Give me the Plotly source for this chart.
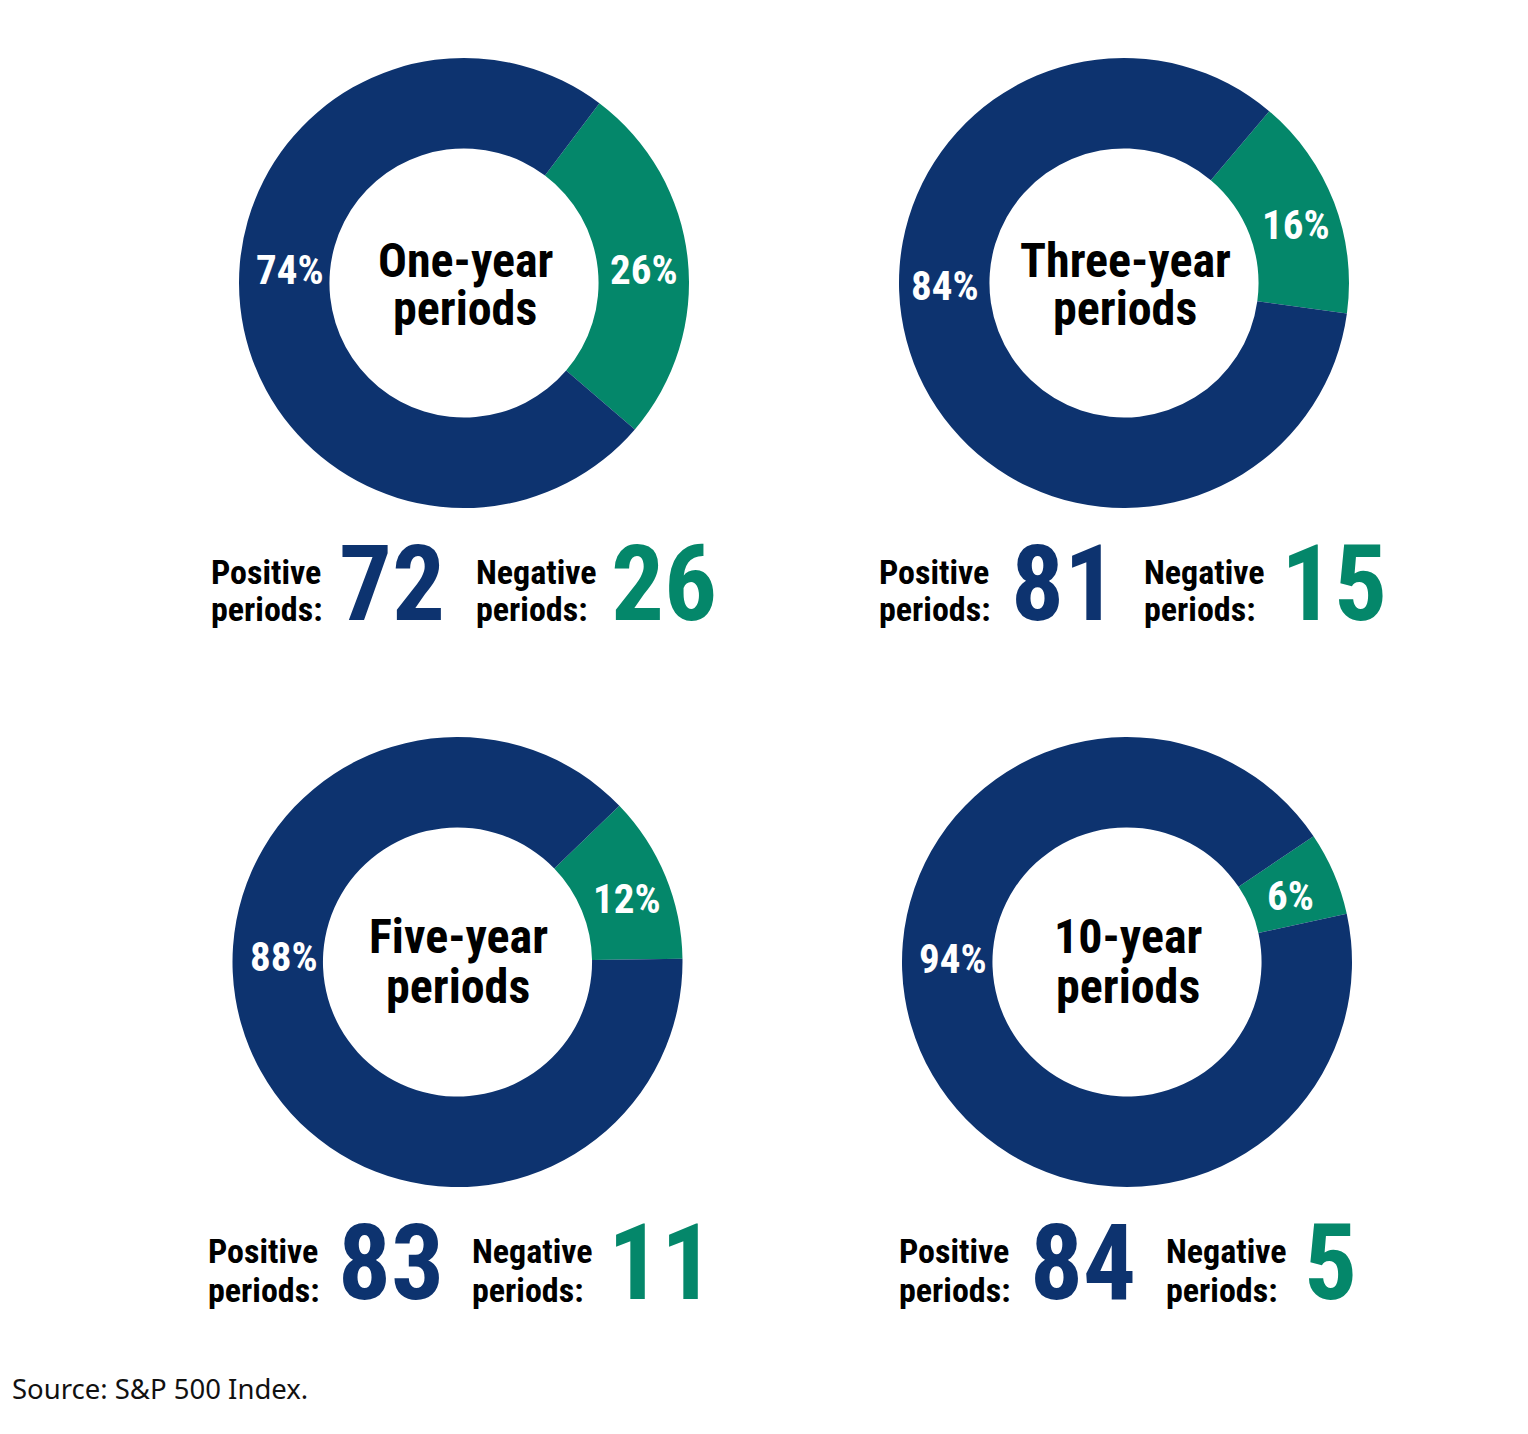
import plotly.graph_objects as go

# ---- data ----
period_titles = ["One-year", "Three-year", "Five-year", "10-year"]
positive_counts = [72, 81, 83, 84]
negative_counts = [26, 15, 11, 5]
positive_pct = [74, 84, 88, 94]
negative_pct = [26, 16, 12, 6]
source_text = "Source: S&P 500 Index."

# ---- style / layout ----
W, H = 1528, 1434
NAVY = "#0D336F"
GREEN = "#04876A"
COND = "Roboto Condensed, Liberation Sans Narrow, Arial Narrow, sans-serif"

centers = [(464, 283), (1124, 283), (457.5, 962), (1127, 962)]
R = 225
rotations = [37, 40.2, 46, 56]

# label positions (pixels): pos%, neg%, title line centres, bottom row
pos_lab = [(290, 270), (945, 286), (283.5, 956.5), (952.5, 958.5)]
neg_lab = [(643.5, 270), (1296, 225), (626.5, 899), (1290, 896)]
title_y = [(260, 308), (260, 308), (937, 986), (937, 986)]
bottom_x = [(209, 337, 474, 609), (877, 1009, 1142, 1279),
            (206, 336, 470, 606), (897, 1028, 1164, 1302)]
bottom_y = [(571.5, 609, 584.5), (571.5, 609, 584.5),
            (1250.5, 1290, 1263.5), (1250.5, 1290, 1263.5)]


def px(x):
    return x / W


def py(y):
    return 1 - y / H


fig = go.Figure()
ann = []
for i in range(4):
    cx, cy = centers[i]
    fig.add_trace(go.Pie(
        values=[negative_pct[i], positive_pct[i]],
        labels=["Negative", "Positive"],
        marker=dict(colors=[GREEN, NAVY], line=dict(width=0)),
        hole=0.598,
        sort=False,
        direction="clockwise",
        rotation=rotations[i],
        textinfo="none",
        hoverinfo="label+percent",
        showlegend=False,
        domain=dict(x=[px(cx - R), px(cx + R)], y=[py(cy + R), py(cy - R)]),
    ))
    # percentages
    for (lx, ly), val in ((pos_lab[i], positive_pct[i]), (neg_lab[i], negative_pct[i])):
        ann.append(dict(x=px(lx), y=py(ly), xref="paper", yref="paper",
                        text=f"<b>{val}%</b>", showarrow=False,
                        xanchor="center", yanchor="middle",
                        font=dict(family=COND, size=41, color="white")))
    # centre title
    for line, ty in zip([period_titles[i], "periods"], title_y[i]):
        ann.append(dict(x=px(cx + 1), y=py(ty), xref="paper", yref="paper",
                        text=f"<b>{line}</b>", showarrow=False,
                        xanchor="center", yanchor="middle",
                        font=dict(family=COND, size=48, color="black")))
    # bottom counts
    x_pl, x_pn, x_nl, x_nn = bottom_x[i]
    y1, y2, yn = bottom_y[i]
    for xl, word in ((x_pl, "Positive"), (x_nl, "Negative")):
        ann.append(dict(x=px(xl), y=py(y1), xref="paper", yref="paper",
                        text=f"<b>{word}</b>", showarrow=False,
                        xanchor="left", yanchor="middle",
                        font=dict(family=COND, size=34, color="black")))
        ann.append(dict(x=px(xl), y=py(y2), xref="paper", yref="paper",
                        text="<b>periods:</b>", showarrow=False,
                        xanchor="left", yanchor="middle",
                        font=dict(family=COND, size=34, color="black")))
    ann.append(dict(x=px(x_pn), y=py(yn), xref="paper", yref="paper",
                    text=f"<b>{positive_counts[i]}</b>", showarrow=False,
                    xanchor="left", yanchor="middle",
                    font=dict(family=COND, size=105, color=NAVY)))
    ann.append(dict(x=px(x_nn), y=py(yn), xref="paper", yref="paper",
                    text=f"<b>{negative_counts[i]}</b>", showarrow=False,
                    xanchor="left", yanchor="middle",
                    font=dict(family=COND, size=105, color=GREEN)))

ann.append(dict(x=px(10), y=py(1388), xref="paper", yref="paper",
                text=source_text, showarrow=False,
                xanchor="left", yanchor="middle",
                font=dict(family="Noto Sans, Lato, sans-serif", size=27.5, color="#111111")))

fig.update_layout(
    width=W, height=H,
    margin=dict(l=0, r=0, t=0, b=0),
    paper_bgcolor="white", plot_bgcolor="white",
    annotations=ann,
)

fig.write_html("out.html", config={"displayModeBar": False})
